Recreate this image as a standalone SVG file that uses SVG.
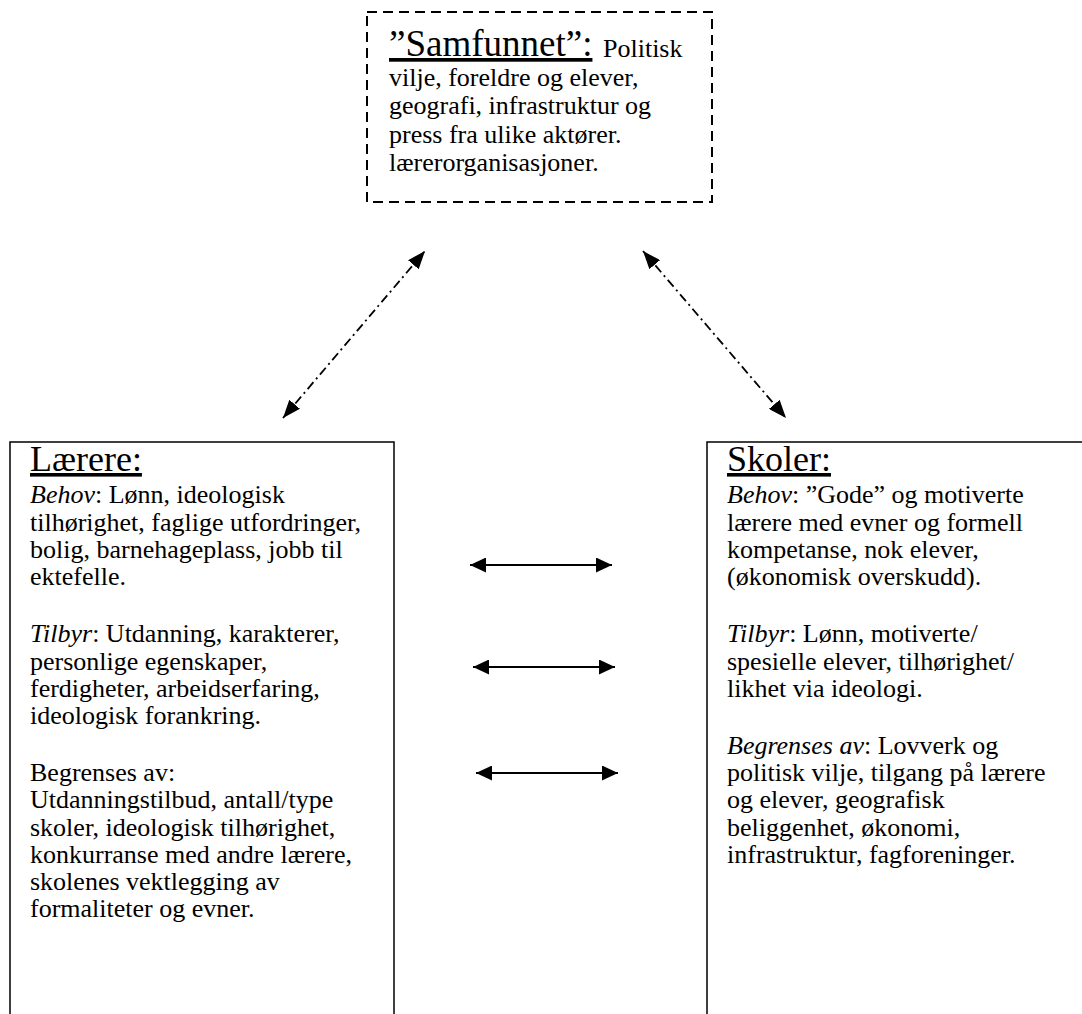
<svg xmlns="http://www.w3.org/2000/svg" width="1082" height="1014" viewBox="0 0 1082 1014">
<style>
.box{fill:#fff;stroke:#000;stroke-width:1.5}
.dash{fill:#fff;stroke:#000;stroke-width:2;stroke-dasharray:10 6}
.t{font-family:"Liberation Serif","Times New Roman",serif;font-size:26px;fill:#000}
.h{font-family:"Liberation Serif","Times New Roman",serif;font-size:36px;fill:#000;text-decoration:underline}
.i{font-style:italic}
.dd{stroke:#000;stroke-width:1.8;stroke-dasharray:9 4 2 4;fill:none}
.so{stroke:#000;stroke-width:2;fill:none}
</style>
<defs>
<marker id="ah" markerUnits="userSpaceOnUse" markerWidth="18" markerHeight="14" refX="18" refY="7" orient="auto-start-reverse">
<path d="M0,0 L18,7 L0,14 Z" fill="#000"/>
</marker>
<marker id="ah2" markerUnits="userSpaceOnUse" markerWidth="16" markerHeight="15" refX="16" refY="7.5" orient="auto-start-reverse">
<path d="M0,0 L16,7.5 L0,15 Z" fill="#000"/>
</marker>
</defs>
<rect width="1082" height="1014" fill="#fff"/>
<g id="samfunnet">
<rect class="dash" x="367" y="12" width="345" height="190"/>
<text class="h" x="389" y="56" style="font-size:37px">”Samfunnet”:</text>
<text class="t" x="603" y="57">Politisk</text>
<text class="t" x="389" y="86">vilje, foreldre og elever,</text>
<text class="t" x="389" y="114">geografi, infrastruktur og</text>
<text class="t" x="389" y="143">press fra ulike aktører.</text>
<text class="t" x="389" y="171">lærerorganisasjoner.</text>
</g>
<g id="laerere">
<rect class="box" x="10" y="442" width="384" height="590"/>
<text class="h" x="30" y="471">Lærere:</text>
<text class="t" x="30" y="503"><tspan class="i">Behov</tspan>: Lønn, ideologisk</text>
<text class="t" x="30" y="531">tilhørighet, faglige utfordringer,</text>
<text class="t" x="30" y="558">bolig, barnehageplass, jobb til</text>
<text class="t" x="30" y="585">ektefelle.</text>
<text class="t" x="30" y="642"><tspan class="i">Tilbyr</tspan>: Utdanning, karakterer,</text>
<text class="t" x="30" y="670">personlige egenskaper,</text>
<text class="t" x="30" y="697">ferdigheter, arbeidserfaring,</text>
<text class="t" x="30" y="724">ideologisk forankring.</text>
<text class="t" x="30" y="781">Begrenses av:</text>
<text class="t" x="30" y="808">Utdanningstilbud, antall/type</text>
<text class="t" x="30" y="836">skoler, ideologisk tilhørighet,</text>
<text class="t" x="30" y="863">konkurranse med andre lærere,</text>
<text class="t" x="30" y="890">skolenes vektlegging av</text>
<text class="t" x="30" y="917">formaliteter og evner.</text>
</g>
<g id="skoler">
<rect class="box" x="707" y="442" width="400" height="590"/>
<text class="h" x="727" y="471">Skoler:</text>
<text class="t" x="727" y="503"><tspan class="i">Behov</tspan>: ”Gode” og motiverte</text>
<text class="t" x="727" y="531">lærere med evner og formell</text>
<text class="t" x="727" y="558">kompetanse, nok elever,</text>
<text class="t" x="727" y="585">(økonomisk overskudd).</text>
<text class="t" x="727" y="642"><tspan class="i">Tilbyr</tspan>: Lønn, motiverte/</text>
<text class="t" x="727" y="670">spesielle elever, tilhørighet/</text>
<text class="t" x="727" y="697">likhet via ideologi.</text>
<text class="t" x="727" y="754"><tspan class="i">Begrenses av</tspan>: Lovverk og</text>
<text class="t" x="727" y="781">politisk vilje, tilgang på lærere</text>
<text class="t" x="727" y="808">og elever, geografisk</text>
<text class="t" x="727" y="836">beliggenhet, økonomi,</text>
<text class="t" x="727" y="863">infrastruktur, fagforeninger.</text>
</g>
<g id="connectors">
<line class="dd" x1="283" y1="418" x2="425" y2="251" marker-start="url(#ah)" marker-end="url(#ah)"/>
<line class="dd" x1="643" y1="251" x2="786" y2="418" marker-start="url(#ah)" marker-end="url(#ah)"/>
<line class="so" x1="470" y1="565" x2="612" y2="565" marker-start="url(#ah2)" marker-end="url(#ah2)"/>
<line class="so" x1="473" y1="667" x2="615" y2="667" marker-start="url(#ah2)" marker-end="url(#ah2)"/>
<line class="so" x1="476" y1="773" x2="618" y2="773" marker-start="url(#ah2)" marker-end="url(#ah2)"/>
</g>
</svg>
